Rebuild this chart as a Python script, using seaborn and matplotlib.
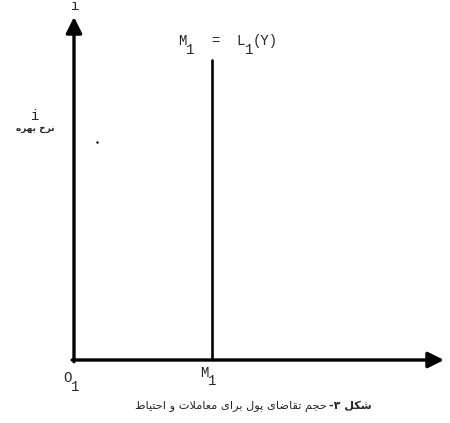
import matplotlib
matplotlib.use("Agg")
import matplotlib.pyplot as plt
import seaborn as sns

# values (axis units: 0..10 on both axes)
curve_x = [3.73, 3.73]
curve_y = [0.0, 8.75]
dot_x = [0.62]
dot_y = [6.36]
axis_end = 10

# label pieces: (text, column in monospace cells, is_subscript)
top_label = [("M", 0, False), ("1", 1, True), ("=", 4, False),
             ("L", 7, False), ("1", 8, True), ("(Y)", 9, False)]
caption_bold = "شکل ۳-"
caption_rest = "حجم تقاضای پول برای معاملات و احتیاط"
ylabel_fa = "نرخ بهره"

# simple persian shaping: (isolated, final, initial, medial)
FORMS = {
    "ا": ("\uFE8D", "\uFE8E", None, None),
    "ب": ("\uFE8F", "\uFE90", "\uFE91", "\uFE92"),
    "پ": ("\uFB56", "\uFB57", "\uFB58", "\uFB59"),
    "ت": ("\uFE95", "\uFE96", "\uFE97", "\uFE98"),
    "ج": ("\uFE9D", "\uFE9E", "\uFE9F", "\uFEA0"),
    "ح": ("\uFEA1", "\uFEA2", "\uFEA3", "\uFEA4"),
    "خ": ("\uFEA5", "\uFEA6", "\uFEA7", "\uFEA8"),
    "ر": ("\uFEAD", "\uFEAE", None, None),
    "ش": ("\uFEB5", "\uFEB6", "\uFEB7", "\uFEB8"),
    "ض": ("\uFEBD", "\uFEBE", "\uFEBF", "\uFEC0"),
    "ط": ("\uFEC1", "\uFEC2", "\uFEC3", "\uFEC4"),
    "ع": ("\uFEC9", "\uFECA", "\uFECB", "\uFECC"),
    "ق": ("\uFED5", "\uFED6", "\uFED7", "\uFED8"),
    "ک": ("\uFB8E", "\uFB8F", "\uFB90", "\uFB91"),
    "ل": ("\uFEDD", "\uFEDE", "\uFEDF", "\uFEE0"),
    "م": ("\uFEE1", "\uFEE2", "\uFEE3", "\uFEE4"),
    "ن": ("\uFEE5", "\uFEE6", "\uFEE7", "\uFEE8"),
    "ه": ("\uFEE9", "\uFEEA", "\uFEEB", "\uFEEC"),
    "و": ("\uFEED", "\uFEEE", None, None),
    "ی": ("\uFBFC", "\uFBFD", "\uFBFE", "\uFBFF"),
}


def shape(text):
    out = []
    i = 0
    while i < len(text):
        c = text[i]
        if c not in FORMS:
            out.append(c)
            i += 1
            continue
        prev = text[i - 1] if i > 0 else None
        nxt = text[i + 1] if i + 1 < len(text) else None
        jp = prev in FORMS and FORMS[prev][2] is not None
        if c == "ل" and nxt == "ا":
            out.append("\uFEFC" if jp else "\uFEFB")
            i += 2
            continue
        jn = FORMS[c][2] is not None and nxt in FORMS
        iso, fin, ini, med = FORMS[c]
        if jp and jn:
            out.append(med)
        elif jp:
            out.append(fin)
        elif jn:
            out.append(ini)
        else:
            out.append(iso)
        i += 1
    return "".join(reversed(out))


sns.set_style("white")
plt.rcParams["font.family"] = ["DejaVu Sans"]
mono = "Liberation Mono"
fs = 10
cell = 0.225      # one monospace cell in data units
sub_drop = 0.25   # subscript offset in data units

fig = plt.figure(figsize=(4.5, 4.23), dpi=100)
ax = fig.add_axes([74 / 450, 63 / 423, 370 / 450, 343 / 423])
ax.set_xlim(0, axis_end)
ax.set_ylim(0, axis_end)
ax.axis("off")

# axes with arrow heads
arrow = dict(arrowstyle="-|>,head_length=0.8,head_width=0.4", lw=2.4,
             color="black", mutation_scale=12, shrinkA=0, shrinkB=0)
ax.annotate("", xy=(axis_end, 0), xytext=(-0.05, 0), arrowprops=arrow,
            annotation_clip=False)
ax.annotate("", xy=(0, axis_end), xytext=(0, -0.05), arrowprops=arrow,
            annotation_clip=False)

# vertical money demand line
sns.lineplot(x=curve_x, y=curve_y, ax=ax, color="black", lw=1.9,
             sort=False, estimator=None)
sns.scatterplot(x=dot_x, y=dot_y, ax=ax, color="black", s=3, linewidth=0)


def mono_label(x0, y0, pieces):
    for txt, col, is_sub in pieces:
        ax.text(x0 + col * cell, y0 - (sub_drop if is_sub else 0), txt,
                family=mono, fontsize=fs, ha="left", va="baseline",
                clip_on=False)


mono_label(2.81, 9.18, top_label)
mono_label(3.4, -0.49, [("M", 0, False), ("1", 1, True)])
mono_label(-0.30, -0.64, [("O", 0, False), ("1", 1, True)])

ax.text(0.03, 10.2, "i", family=mono, fontsize=fs, ha="center", va="baseline", clip_on=False)
ax.text(-1.05, 7.0, "i", family=mono, fontsize=fs, ha="center", va="baseline", clip_on=False)
ax.text(-1.05, 6.74, shape(ylabel_fa), fontsize=6.5, fontweight="bold",
        ha="center", va="center", clip_on=False)

fig.text(372 / 450, 1 - 406 / 423, shape(caption_bold), fontsize=8,
         fontweight="bold", ha="right", va="center")
fig.text(327 / 450, 1 - 406 / 423, shape(caption_rest), fontsize=8.2,
         ha="right", va="center")

fig.savefig("out.png", dpi=100)
